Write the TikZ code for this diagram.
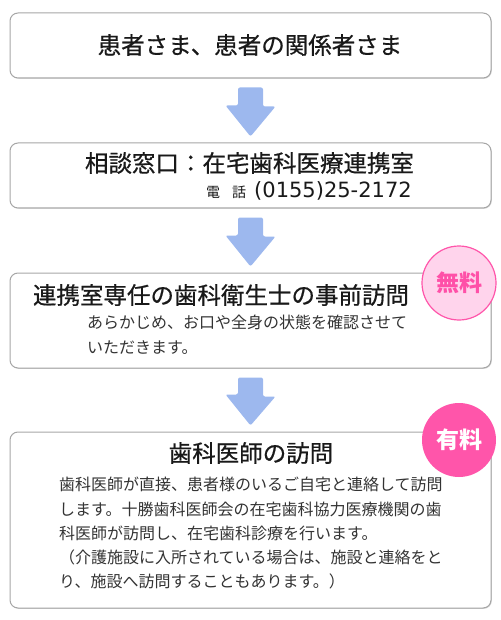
\documentclass[tikz,border=0pt]{standalone}
\usepackage{fontspec}
\setmainfont{Noto Sans CJK JP}
\newfontfamily\titlefont[FakeBold=0.6]{Noto Sans CJK JP}
\newfontfamily\digitfont{DejaVu Sans}
\usetikzlibrary{shadows,calc}
\definecolor{arrowblue}{RGB}{157,184,238}
\definecolor{pinkdeep}{RGB}{255,85,170}
\definecolor{pinklight}{RGB}{255,212,236}
\definecolor{pinktext}{RGB}{255,80,168}
\tikzset{
  box/.style={draw=black!35, line width=1pt, rounded corners=8pt, fill=white,
    minimum width=481pt, drop shadow={shadow xshift=0.8pt, shadow yshift=-0.8pt, opacity=0.35}},
  title/.style={font=\titlefont\fontsize{23.5}{28}\selectfont, text=black!90},
  body/.style={align=left, text=black!80, inner sep=0pt},
  badge/.style={circle, minimum size=74pt, inner sep=0pt, line width=1.2pt,
    font=\fontsize{23}{24}\selectfont\bfseries},
  flow/.style={fill=arrowblue, rounded corners=2pt}
}
\begin{document}
\begin{tikzpicture}[x=1pt, y=-1pt]
  \useasboundingbox (0,0) rectangle (500,620);
  % boxes
  \node[box, minimum height=65pt] (b1) at (250.5,45.5) {};
  \node[box, minimum height=65pt] (b2) at (250.5,175.5) {};
  \node[box, minimum height=95pt] (b3) at (250.5,320.5) {};
  \node[box, minimum height=176pt] (b4) at (250.5,520) {};
  % arrows between the boxes
  \foreach \a/\b in {b1/b2, b2/b3, b3/b4}
    \fill[flow] ($(\a.south)+(-12.5,9)$) -- ++(25,0) -- ++(0,19) -- ++(12.5,0)
      -- ($(\b.north)+(0,-6)$) -- ++(-25,-31) -- ++(12.5,0) -- cycle;
  % texts
  \node[title] (t1) at (250,45) {患者さま、患者の関係者さま};
  \node[title] (t2) at (249.5,163) {相談窓口：在宅歯科医療連携室};
  \node[anchor=east, inner sep=0pt, text=black!90] (tel) at (412,191)
    {{\fontsize{14}{16}\selectfont 電\hspace{12pt}話}\hspace{8pt}{\digitfont\fontsize{21}{22}\selectfont (0155)25-2172}};
  \node[title] (t3) at (221,295) {連携室専任の歯科衛生士の事前訪問};
  \node[body, anchor=north west, font=\fontsize{16}{25}\selectfont] (d3) at (87,315)
    {あらかじめ、お口や全身の状態を確認させて\\いただきます。};
  \node[title] (t4) at (251,453) {歯科医師の訪問};
  \node[body, anchor=north west, font=\fontsize{16}{24.3}\selectfont] (d4) at (59,477)
    {歯科医師が直接、患者様のいるご自宅と連絡して訪問\\
     します。十勝歯科医師会の在宅歯科協力医療機関の歯\\
     科医師が訪問し、在宅歯科診療を行います。\\
     （介護施設に入所されている場合は、施設と連絡をと\\
     り、施設へ訪問することもあります。）};
  % badges
  \node[badge, draw=pinkdeep, fill=pinklight, text=pinktext] (free) at (459,283) {無料};
  \node[badge, fill=pinkdeep, text=white] (paid) at (459,440) {有料};
\end{tikzpicture}
\end{document}
